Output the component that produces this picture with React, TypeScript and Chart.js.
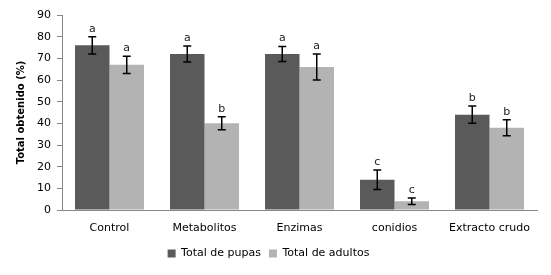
import React, { useEffect, useRef } from "react";
import { Chart, registerables } from "chart.js";

Chart.register(...registerables);

const categories = ["Control", "Metabolitos", "Enzimas", "conidios", "Extracto crudo"];
const pupas = [76, 72, 72, 14, 44];
const pupasErr = [4, 3.7, 3.5, 4.5, 4];
const pupasLetters = ["a", "a", "a", "c", "b"];
const adultos = [67, 40, 66, 4, 38];
const adultosErr = [4, 3, 6, 1.5, 3.7];
const adultosLetters = ["a", "b", "a", "c", "b"];
const seriesNames = ["Total de pupas", "Total de adultos"];
const yTicks = { min: 0, max: 90, step: 10 };

const FONT = "'DejaVu Sans', Verdana, sans-serif";

const errorBarPlugin = {
  id: "errorBars",
  afterDatasetsDraw(chart: any) {
    const ctx = chart.ctx;
    const yScale = chart.scales.y;
    const errs = [pupasErr, adultosErr];
    const letters = [pupasLetters, adultosLetters];
    chart.data.datasets.forEach((ds: any, di: number) => {
      const meta = chart.getDatasetMeta(di);
      meta.data.forEach((bar: any, i: number) => {
        const v = ds.data[i];
        const e = errs[di][i];
        const x = bar.x;
        const yTop = yScale.getPixelForValue(v + e);
        const yBot = yScale.getPixelForValue(v - e);
        ctx.save();
        ctx.strokeStyle = "#000";
        ctx.lineWidth = 1.5;
        ctx.beginPath();
        ctx.moveTo(x, yTop);
        ctx.lineTo(x, yBot);
        ctx.moveTo(x - 4, yTop);
        ctx.lineTo(x + 4, yTop);
        ctx.moveTo(x - 4, yBot);
        ctx.lineTo(x + 4, yBot);
        ctx.stroke();
        ctx.fillStyle = "#222";
        ctx.font = "11px " + FONT;
        ctx.textAlign = "center";
        ctx.textBaseline = "alphabetic";
        ctx.fillText(letters[di][i], x, yTop - 5);
        ctx.restore();
      });
    });
  },
};

export default function App() {
  const ref = useRef<HTMLCanvasElement>(null);
  useEffect(() => {
    document.body.style.margin = "0";
    const chart = new Chart(ref.current!, {
      type: "bar",
      data: {
        labels: categories,
        datasets: [
          {
            label: seriesNames[0],
            data: pupas,
            backgroundColor: "#5a5a5a",
            borderWidth: 0,
            barPercentage: 1,
            categoryPercentage: 0.726,
          },
          {
            label: seriesNames[1],
            data: adultos,
            backgroundColor: "#b3b3b3",
            borderWidth: 0,
            barPercentage: 1,
            categoryPercentage: 0.726,
          },
        ],
      },
      options: {
        animation: false,
        responsive: false,
        devicePixelRatio: 1,
        layout: { padding: { left: 0, right: 14, top: 15, bottom: 6 } },
        plugins: {
          legend: {
            position: "bottom",
            labels: {
              boxWidth: 8,
              boxHeight: 8,
              padding: 8,
              color: "#000",
              font: { family: FONT, size: 11 },
            },
          },
          tooltip: { enabled: false },
        },
        scales: {
          x: {
            grid: { display: false, drawTicks: false },
            border: { color: "#888", width: 1 },
            ticks: { color: "#000", font: { family: FONT, size: 11 }, padding: 12 },
            afterFit: (s: any) => {
              s.height = 30;
            },
          },
          y: {
            min: yTicks.min,
            max: yTicks.max,
            ticks: {
              stepSize: yTicks.step,
              color: "#000",
              font: { family: FONT, size: 11 },
              padding: 6,
            },
            grid: { drawOnChartArea: false, tickLength: 5, color: "#888" },
            border: { color: "#888", width: 1 },
            title: {
              display: true,
              text: "Total obtenido (%)",
              color: "#000",
              font: { family: FONT, size: 10, weight: "bold" },
              padding: { top: 15, bottom: 0 },
            },
            afterFit: (s: any) => {
              s.width = 62;
            },
          },
        },
      },
      plugins: [errorBarPlugin],
    });
    return () => chart.destroy();
  }, []);
  return (
    <div style={{ position: "absolute", left: 0, top: 0, width: 551, height: 275, background: "#fff" }}>
      <canvas ref={ref} width={551} height={275} />
    </div>
  );
}
